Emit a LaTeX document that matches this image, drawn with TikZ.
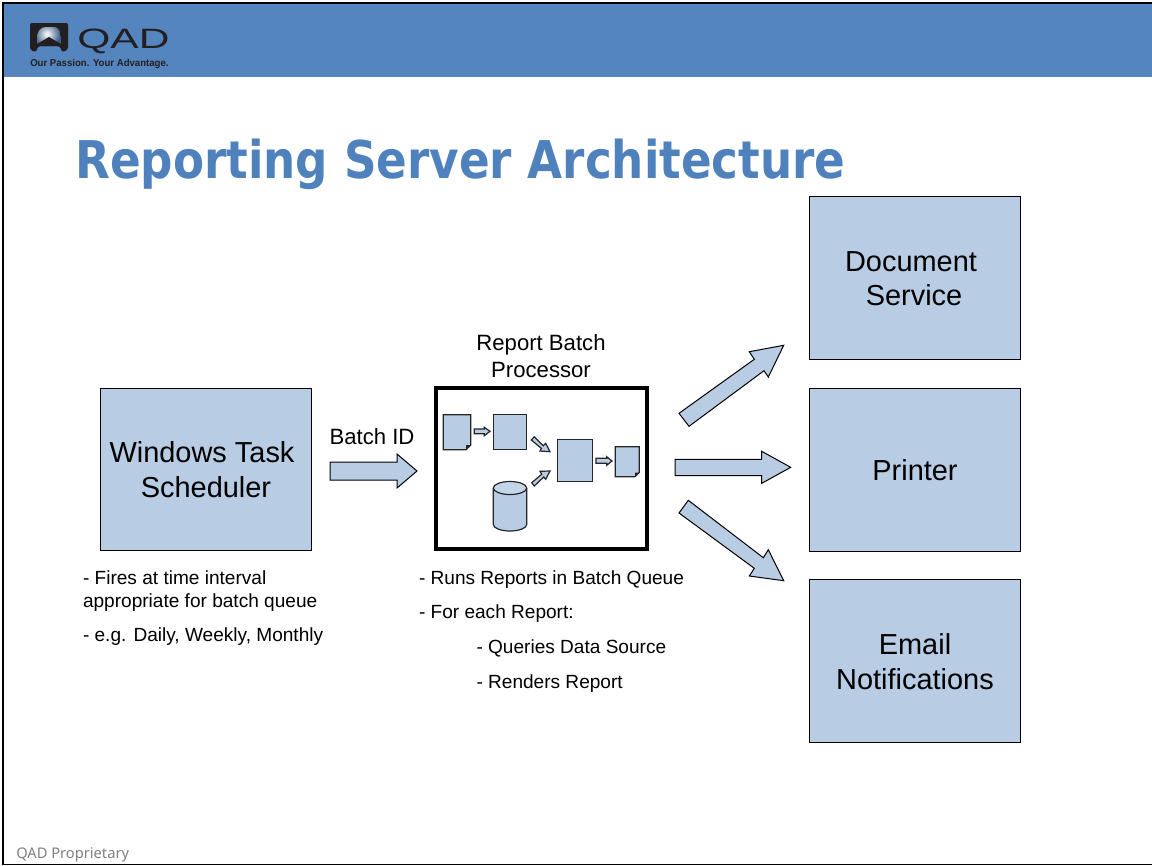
\documentclass[tikz,border=0pt]{standalone}
\usepackage{fontspec}
\setmainfont{Liberation Sans}
\newfontfamily\titlefont{DejaVu Sans}
\newfontfamily\footfont{Noto Sans}
\usetikzlibrary{shapes.geometric}
\definecolor{hdr}{HTML}{5585BF}
\definecolor{ttl}{HTML}{4F81BD}
\definecolor{fillb}{HTML}{B8CCE4}
\definecolor{logod}{HTML}{231F20}
\tikzset{
  x=0.75pt,y=-0.75pt,
  wh/.style 2 args={minimum width=#1*0.75pt,minimum height=#2*0.75pt},
  pane/.style={draw=black,fill=fillb,line width=0.75pt,inner sep=0pt},
  framebox/.style={draw=black,fill=white,line width=3pt,inner sep=0pt},
  blockarrow/.style={draw=black,fill=fillb,line width=0.75pt,line join=miter},
  smallarrow/.style={draw=black!85,fill=fillb,line width=0.9pt,line join=miter},
  mini/.style={draw=black!85,fill=fillb,line width=0.9pt},
  lab/.style={inner sep=0pt,outer sep=0pt,font=\fontsize{21.7}{26}\selectfont,anchor=base},
  mid/.style={inner sep=0pt,outer sep=0pt,font=\fontsize{16.6}{20}\selectfont,anchor=base},
  note/.style={inner sep=0pt,outer sep=0pt,font=\fontsize{14.3}{17}\selectfont,anchor=base west},
}
\begin{document}
\begin{tikzpicture}
\useasboundingbox (0,0) rectangle (1152,865);
\fill[white] (0,0) rectangle (1152,865);
% header band and slide frame
\fill[hdr] (3,3) rectangle (1152,77);
\draw[black,line width=1.5pt] (3,865) -- (3,2.5) -- (1152,2.5);
\draw[black,line width=0.9pt] (3,864.4) -- (1152,864.4);
% logo
\fill[logod,rounded corners=1.5pt] (30,23) -- (68,23) -- (68,50) -- (62,52) -- (60,46) -- (38,46) -- (36,52) -- (30,50) -- cycle;
\begin{scope}
\clip (37,46) -- (37,38) .. controls (37,31) and (41,27) .. (46,27) -- (54,27) .. controls (58,27) and (61,31) .. (61,38) -- (61,46) -- cycle;
\fill[hdr!70!black] (37,27) rectangle (61,46);
\shade[inner color=white,outer color=hdr!70!black] (47,34) circle[radius=13];
\fill[logod] (37,46) -- (37,44) -- (49,37) -- (61,44) -- (61,46) -- cycle;
\end{scope}
\node[inner sep=0pt,anchor=base west,text=logod] (logoword) at (77,48) {\scalebox{1.52}[1]{\fontsize{21}{24}\selectfont QAD}};
\node[inner sep=0pt,anchor=base west,text=logod] (tagline) at (30,66) {\scalebox{0.96}[1]{\fontsize{7.5}{9}\selectfont\bfseries Our Passion. Your Advantage.}};
% title
\node[inner sep=0pt,anchor=base west,text=ttl] (title) at (75,178) {\scalebox{0.87}[1]{\titlefont\bfseries\fontsize{39}{46}\selectfont Reporting Server Architecture}};
% boxes
\node[pane,wh={211}{162}] (sched) at (205.5,469) {};
\node[pane,wh={211}{163}] (doc) at (914.5,277.5) {};
\node[pane,wh={211}{163}] (printer) at (914.5,469.5) {};
\node[pane,wh={211}{163}] (email) at (914.5,660.5) {};
\node[framebox,wh={211}{161}] (batch) at (541.5,468.7) {};
% box labels
\node[lab] (t1) at (202,462.5) {Windows Task};
\node[lab] (t2) at (206,497.5) {Scheduler};
\node[lab] (t3) at (911,271.5) {Document};
\node[lab] (t4) at (914,305.5) {Service};
\node[lab] (t5) at (915,480.5) {Printer};
\node[lab] (t6) at (915,654.5) {Email};
\node[lab] (t7) at (915,689.5) {Notifications};
\node[mid] (t8) at (541,350) {Report Batch};
\node[mid] (t9) at (541,377) {Processor};
\node[mid] (t10) at (372,444) {Batch ID};
% notes
\node[note] (n1) at (83,584.5) {- Fires at time interval};
\node[note] (n2) at (83,607.5) {appropriate for batch queue};
\node[note] (n3) at (83,641.5) {- e.g. Daily, Weekly, Monthly};
\node[note] (n4) at (419,584.5) {- Runs Reports in Batch Queue};
\node[note] (n5) at (419,618.5) {- For each Report:};
\node[note] (n6) at (476.5,653.5) {- Queries Data Source};
\node[note] (n7) at (476.5,688.5) {- Renders Report};
% block arrows
\draw[blockarrow] (330,462) -- (397,462) -- (397,454) -- (417,471) -- (397,488) -- (397,480) -- (330,480) -- cycle;
\draw[blockarrow] (679,413.3) -- (754.3,359.3) -- (749.3,351.7) -- (783.7,345.3) -- (768.3,377) -- (764,370.7) -- (689,426.3) -- cycle;
\draw[blockarrow] (675,459.3) -- (761.7,459.3) -- (761.7,451.3) -- (790.7,467.3) -- (761.7,483.3) -- (761.7,475.7) -- (675,475.7) -- cycle;
\draw[blockarrow] (688.3,500.3) -- (763.3,557.7) -- (768.3,549.7) -- (783.7,580.7) -- (749.3,576) -- (754.3,568.3) -- (679,513) -- cycle;
% inner diagram
\draw[mini] (443.3,414.7) -- (470.7,414.7) -- (470.7,445) -- (466,449.7) -- (443.3,449.7) -- cycle;
\fill[black!85] (470.7,445) -- (466,449.7) -- (466,445) -- cycle;
\node[mini,inner sep=0pt,wh={33}{35}] (m1) at (510.2,432.2) {};
\node[mini,inner sep=0pt,wh={35.4}{42}] (m2) at (575,460.3) {};
\draw[mini] (615.3,446.7) -- (639.3,446.7) -- (639.3,472.5) -- (635,476.7) -- (615.3,476.7) -- cycle;
\fill[black!85] (639.3,472.5) -- (635,476.7) -- (635,472.5) -- cycle;
% cylinder
\draw[mini] (493.3,488) -- (493.3,524.5) arc[start angle=180,end angle=360,x radius=16.7,y radius=-6.5] -- (526.7,488);
\draw[mini,fill=fillb!80!white] (510,488) ellipse[x radius=16.7,y radius=6.5];
% small arrows
\draw[smallarrow] (474.3,429) -- (484.3,429) -- (484.3,427.3) -- (490,431.3) -- (484.3,435.7) -- (484.3,433.7) -- (474.3,433.7) -- cycle;
\draw[smallarrow] (531.3,440) -- (534.3,436.7) -- (543.3,445.7) -- (545.7,443.3) -- (550,451.7) -- (540,451) -- (541.3,448.3) -- cycle;
\draw[smallarrow] (531.7,482.7) -- (541.7,474.3) -- (540,471.3) -- (550,471) -- (545.7,479.3) -- (543.7,477) -- (534.3,486) -- cycle;
\draw[smallarrow] (596,458.3) -- (606.7,458.3) -- (606.7,456.7) -- (612,461) -- (606.7,465.3) -- (606.7,463.3) -- (596,463.3) -- cycle;
% footer
\node[inner sep=0pt,anchor=base west,text=black!50] (foot) at (16,858) {\footfont\fontsize{11}{13}\selectfont QAD Proprietary};
\end{tikzpicture}
\end{document}
